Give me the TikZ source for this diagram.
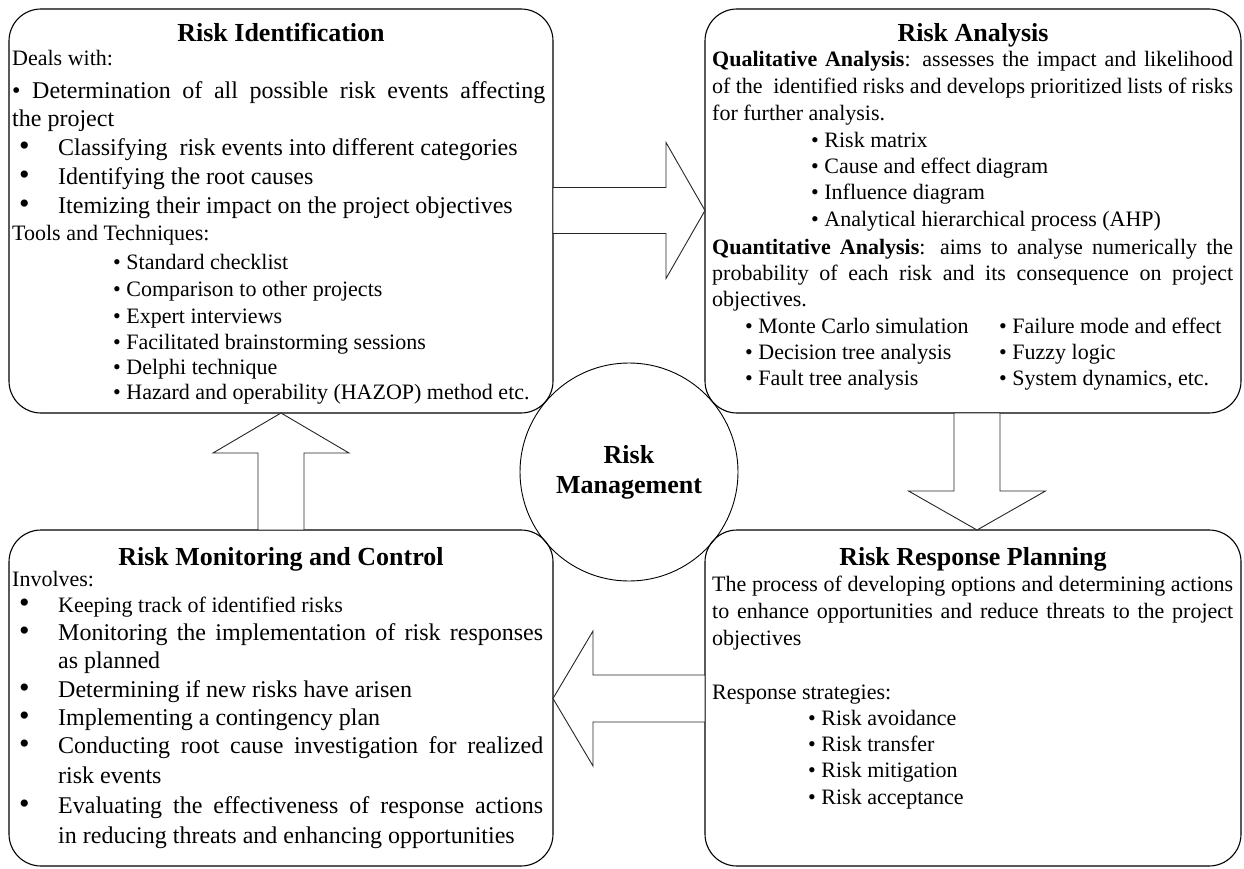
\documentclass[tikz,border=0pt]{standalone}
\usepackage{fontspec}
\setmainfont{Liberation Serif}
\usetikzlibrary{calc}
\begin{document}
\begin{tikzpicture}[x=1pt,y=-1pt,
  panel/.style={draw=black, line width=1.1pt, rounded corners=32pt, fill=white,
    anchor=north west, inner sep=0pt, outer sep=0pt},
  hub/.style={draw=black, line width=0.9pt, circle, minimum size=218pt, inner sep=0pt,
    align=center, font=\fontsize{26}{30}\selectfont\bfseries},
  blockarrow/.style={draw=black!85, line width=0.9pt, fill=white, line join=miter},
  ttl/.style={font=\fontsize{26}{30}\selectfont\bfseries, inner sep=0pt, anchor=base},
  big/.style={font=\fontsize{24}{28}\selectfont, inner sep=0pt, anchor=base west},
  small/.style={font=\fontsize{22}{26}\selectfont, inner sep=0pt, anchor=base west},
  dot/.style={font=\fontsize{30}{30}\selectfont, inner sep=0pt, anchor=base west,
    text height=12pt, text depth=0pt},
]
\useasboundingbox (0,0) rectangle (1244,869);

% the four stage panels
\node[panel, minimum width=544pt, minimum height=404pt] (ri)  at (9,9)   {};
\node[panel, minimum width=536pt, minimum height=404pt] (ra)  at (705,9) {};
\node[panel, minimum width=544pt, minimum height=336pt] (rmc) at (9,530) {};
\node[panel, minimum width=536pt, minimum height=336pt] (rrp) at (705,530) {};

% central hub
\node[hub] (rm) at (629,472) {Risk\\Management};

% block arrows between the panels
\draw[blockarrow] (ri.east |- 0,187.5) -- (666,187.5) -- (666,142.5) -- (ra.west |- 0,210.5)
  -- (666,278.5) -- (666,233.5) -- (ri.east |- 0,233.5) -- cycle;
\draw[blockarrow] (ra.south -| 954,0) -- (954,491) -- (908.5,491) -- (rrp.north -| 977,0)
  -- (1045.5,491) -- (1000,491) -- (ra.south -| 1000,0) -- cycle;
\draw[blockarrow] (rrp.west |- 0,675) -- (593,675) -- (593,631) -- (rmc.east |- 0,698.5)
  -- (593,766) -- (593,722) -- (rrp.west |- 0,722) -- cycle;
\draw[blockarrow] (rmc.north -| 258,0) -- (258,453) -- (213,453) -- (ri.south -| 281,0)
  -- (349,453) -- (304,453) -- (rmc.north -| 304,0) -- cycle;

% Risk Identification
\node[ttl] (ri-t) at (281,42) {Risk Identification};
\node[small] (ri-a) at (12,66) {Deals with:};
\node[big] (ri-b) at (12,99) {\makebox[533pt][s]{• Determination of all possible risk events affecting}};
\node[big] (ri-c) at (12,127) {the project};
\node[dot] (ri-d0) at (19,156) {•};
\node[big] (ri-d) at (58,156) {Classifying~ risk events into different categories};
\node[dot] (ri-e0) at (19,185) {•};
\node[big] (ri-e) at (58,185) {Identifying the root causes};
\node[dot] (ri-f0) at (19,214) {•};
\node[big] (ri-f) at (58,214) {Itemizing their impact on the project objectives};
\node[small] (ri-g) at (12,240) {Tools and Techniques:};
\node[small] (ri-h1) at (113,269) {• Standard checklist};
\node[small] (ri-h2) at (113,296.5) {• Comparison to other projects};
\node[small] (ri-h3) at (113,323) {• Expert interviews};
\node[small] (ri-h4) at (113,349) {• Facilitated brainstorming sessions};
\node[small] (ri-h5) at (113,374.5) {• Delphi technique};
\node[small] (ri-h6) at (113,399.5) {• Hazard and operability (HAZOP) method etc.};

% Risk Analysis
\node[ttl] (ra-t) at (973,42) {Risk Analysis};
\node[small] (ra-1) at (712,67) {\makebox[521pt][s]{\textbf{Qualitative Analysis}: assesses the impact and likelihood}};
\node[small] (ra-2) at (712,94) {\makebox[521pt][s]{of the~ identified risks and develops prioritized lists of risks}};
\node[small] (ra-3) at (712,120.5) {for further analysis.};
\node[small] (ra-4) at (811,147.5) {• Risk matrix};
\node[small] (ra-5) at (811,173.5) {• Cause and effect diagram};
\node[small] (ra-6) at (811,199.5) {• Influence diagram};
\node[small] (ra-7) at (811,226) {• Analytical hierarchical process (AHP)};
\node[small] (ra-8) at (712,254) {\makebox[521pt][s]{\textbf{Quantitative Analysis}: aims to analyse numerically the}};
\node[small] (ra-9) at (712,280) {\makebox[521pt][s]{probability of each risk and its consequence on project}};
\node[small] (ra-10) at (712,306.5) {objectives.};
\node[small] (ra-11) at (745,333) {• Monte Carlo simulation};
\node[small] (ra-12) at (745,359) {• Decision tree analysis};
\node[small] (ra-13) at (745,385) {• Fault tree analysis};
\node[small] (ra-14) at (999,333) {• Failure mode and effect};
\node[small] (ra-15) at (999,359) {• Fuzzy logic};
\node[small] (ra-16) at (999,385) {• System dynamics, etc.};

% Risk Monitoring and Control
\node[ttl] (rmc-t) at (281,565) {Risk Monitoring and Control};
\node[small] (rmc-a) at (12,586) {Involves:};
\node[dot] (rmc-b0) at (19,612) {•};
\node[small] (rmc-b) at (58,612) {Keeping track of identified risks};
\node[dot] (rmc-c0) at (19,640) {•};
\node[big] (rmc-c) at (58,640) {\makebox[485pt][s]{Monitoring the implementation of risk responses}};
\node[big] (rmc-d) at (58,668) {as planned};
\node[dot] (rmc-e0) at (19,697) {•};
\node[big] (rmc-e) at (58,697) {Determining if new risks have arisen};
\node[dot] (rmc-f0) at (19,725) {•};
\node[big] (rmc-f) at (58,725) {Implementing a contingency plan};
\node[dot] (rmc-g0) at (19,753) {•};
\node[big] (rmc-g) at (58,753) {\makebox[485pt][s]{Conducting root cause investigation for realized}};
\node[big] (rmc-h) at (58,783) {risk events};
\node[dot] (rmc-i0) at (19,813) {•};
\node[big] (rmc-i) at (58,813) {\makebox[485pt][s]{Evaluating the effectiveness of response actions}};
\node[big] (rmc-j) at (58,843) {in reducing threats and enhancing opportunities};

% Risk Response Planning
\node[ttl] (rrp-t) at (973,565) {Risk Response Planning};
\node[small] (rrp-1) at (712,591) {\makebox[521pt][s]{The process of developing options and determining actions}};
\node[small] (rrp-2) at (712,618) {\makebox[521pt][s]{to enhance opportunities and reduce threats to the project}};
\node[small] (rrp-3) at (712,645) {objectives};
\node[small] (rrp-4) at (712,699) {Response strategies:};
\node[small] (rrp-5) at (808,725.5) {• Risk avoidance};
\node[small] (rrp-6) at (808,751.5) {• Risk transfer};
\node[small] (rrp-7) at (808,777.5) {• Risk mitigation};
\node[small] (rrp-8) at (808,804.5) {• Risk acceptance};
\end{tikzpicture}
\end{document}
